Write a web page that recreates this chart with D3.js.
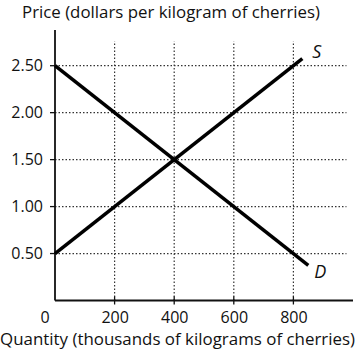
<!DOCTYPE html>
<html><head><meta charset="utf-8">
<script src="https://cdn.jsdelivr.net/npm/d3@7"></script>
<style>body{margin:0;background:#fff}svg{display:block}text{font-family:"Open Sans",sans-serif;fill:#111}</style>
</head><body><svg id="c" width="361" height="356"></svg>
<script>
const xTicks = [0, 200, 400, 600, 800];
const yTicks = [0.5, 1.0, 1.5, 2.0, 2.5];
const yTickLabels = ["0.50", "1.00", "1.50", "2.00", "2.50"];
const supplyQ = [0, 830];
const supplyP = [0.5, 2.575];
const demandQ = [0, 850];
const demandP = [2.5, 0.375];
const xTitle = "Quantity (thousands of kilograms of cherries)";
const yTitle = "Price (dollars per kilogram of cherries)";

const svg = d3.select("#c");
const x = d3.scaleLinear().domain([0, 1000]).range([55, 353]);
const y = d3.scaleLinear().domain([0, 2.5]).range([300.5, 65.7]);
const gridEndQ = 978, gridTopP = 2.76, axisTopP = 2.88;
const FS = 16;
const XLAB_Y = 22.5;

// grid
const g = svg.append("g");
g.selectAll(".vg").data(xTicks.slice(1)).join("line")
  .attr("x1", d => x(d)).attr("x2", d => x(d)).attr("y1", y(0)).attr("y2", y(gridTopP))
  .attr("stroke", "#333").attr("stroke-width", 1.2).attr("stroke-dasharray", "1.5,2");
g.selectAll(".hg").data(yTicks).join("line")
  .attr("x1", x(0)).attr("x2", x(gridEndQ)).attr("y1", d => y(d)).attr("y2", d => y(d))
  .attr("stroke", "#333").attr("stroke-width", 1.2).attr("stroke-dasharray", "1.5,2");

// axes
const xAxis = d3.axisBottom(x).tickValues(xTicks.slice(1)).tickSize(0).tickFormat(d3.format("d"));
const ax = svg.append("g").attr("transform", `translate(0,${y(0)})`).call(xAxis);
ax.select(".domain").remove();
ax.selectAll("text").attr("font-size", FS).attr("y", XLAB_Y).attr("dy", 0)
  .attr("font-family", '"Open Sans",sans-serif').attr("fill", "#111");
const yAxis = d3.axisLeft(y).tickValues(yTicks).tickSize(0).tickFormat((d, i) => yTickLabels[i]);
const ay = svg.append("g").attr("transform", `translate(${x(0)},0)`).call(yAxis);
ay.select(".domain").remove();
ay.selectAll("text").attr("font-size", FS).attr("x", -12)
  .attr("font-family", '"Open Sans",sans-serif').attr("fill", "#111");

// tick marks
svg.selectAll(".xt").data(xTicks.slice(1)).join("line")
  .attr("x1", d => x(d)).attr("x2", d => x(d)).attr("y1", y(0) - 4).attr("y2", y(0) + 4)
  .attr("stroke", "#111").attr("stroke-width", 1.3);
svg.selectAll(".yt").data(yTicks).join("line")
  .attr("x1", x(0) - 5).attr("x2", x(0)).attr("y1", d => y(d)).attr("y2", d => y(d))
  .attr("stroke", "#111").attr("stroke-width", 1.3);

// axis lines
svg.append("line").attr("x1", x(0)).attr("x2", x(0)).attr("y1", y(0)).attr("y2", y(axisTopP))
  .attr("stroke", "#111").attr("stroke-width", 1.8);
svg.append("line").attr("x1", x(0)).attr("x2", x(1000)).attr("y1", y(0)).attr("y2", y(0))
  .attr("stroke", "#111").attr("stroke-width", 1.8);

// zero label
svg.append("text").attr("x", x(0) - 10).attr("y", y(0) + XLAB_Y)
  .attr("text-anchor", "middle").attr("font-size", FS).text("0");

// curves
const line = d3.line().x(d => x(d[0])).y(d => y(d[1]));
svg.append("path").attr("d", line(supplyQ.map((q, i) => [q, supplyP[i]])))
  .attr("fill", "none").attr("stroke", "#000").attr("stroke-width", 3.5);
svg.append("path").attr("d", line(demandQ.map((q, i) => [q, demandP[i]])))
  .attr("fill", "none").attr("stroke", "#000").attr("stroke-width", 3.5);

svg.append("text").attr("x", x(supplyQ[1]) + 10).attr("y", y(supplyP[1]) - 1)
  .attr("font-size", 18).attr("font-style", "italic").text("S");
svg.append("text").attr("x", x(demandQ[1]) + 6).attr("y", y(demandP[1]) + 13)
  .attr("font-size", 18).attr("font-style", "italic").text("D");

// titles
svg.append("text").attr("x", 22).attr("y", 18).attr("font-size", 17)
  .attr("textLength", 298).attr("lengthAdjust", "spacingAndGlyphs").text(yTitle);
svg.append("text").attr("x", 0).attr("y", 345).attr("font-size", 16.5)
  .attr("textLength", 355).attr("lengthAdjust", "spacingAndGlyphs").text(xTitle);
</script></body></html>
